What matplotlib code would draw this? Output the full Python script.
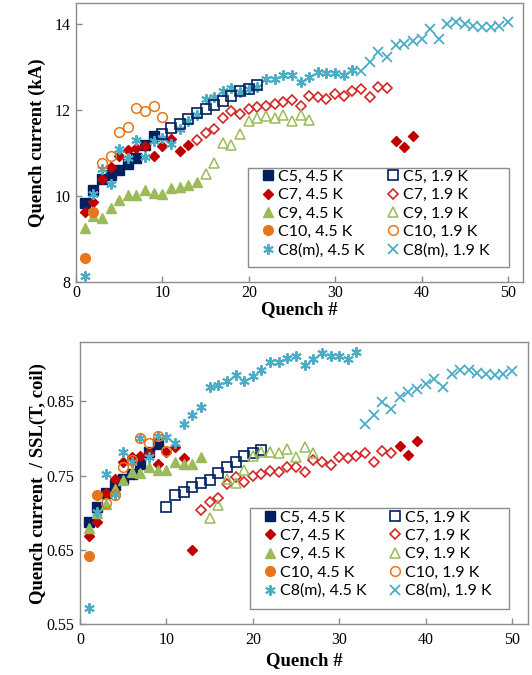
import matplotlib
matplotlib.use("Agg")
import matplotlib.pyplot as plt
from matplotlib.lines import Line2D
from matplotlib.patches import Rectangle

# ---------------- data: top panel (Quench current, kA) ----------------
c5_45_x = [1, 2, 3, 4, 5, 6, 7, 8, 9]
c5_45_y = [9.85, 10.15, 10.4, 10.5, 10.62, 10.75, 10.9, 11.2, 11.4]
c5_19_x = [10, 11, 12, 13, 14, 15, 16, 17, 18, 19, 20, 21]
c5_19_y = [11.45, 11.58, 11.68, 11.8, 11.93, 12.03, 12.12, 12.22, 12.33, 12.44, 12.5, 12.58]
c7_45_x = [1, 2, 3, 4, 5, 6, 7, 8, 9, 10, 11, 12, 13, 37, 38, 39]
c7_45_y = [9.62, 9.87, 10.39, 10.67, 10.94, 11.08, 11.13, 11.16, 10.94, 11.16, 11.33, 11.06, 11.2,
           11.29, 11.15, 11.39]
c7_19_x = list(range(14, 37))
c7_19_y = [11.3, 11.46, 11.56, 11.82, 11.99, 11.92, 12.02, 12.07, 12.11, 12.15, 12.2, 12.23,
           12.11, 12.34, 12.3, 12.26, 12.37, 12.34, 12.44, 12.5, 12.32, 12.55, 12.51]
c9_45_x = list(range(1, 15))
c9_45_y = [9.26, 9.54, 9.49, 9.72, 9.91, 10.02, 10.02, 10.14, 10.08, 10.05, 10.2, 10.22, 10.25, 10.33]
c9_19_x = list(range(15, 28))
c9_19_y = [10.52, 10.77, 11.25, 11.2, 11.44, 11.75, 11.82, 11.86, 11.82, 11.9, 11.74, 11.88, 11.77]
c10_45_x = [1, 2]
c10_45_y = [8.55, 9.62]
c10_19_x = [3, 4, 5, 6, 7, 8, 9, 10]
c10_19_y = [10.77, 10.94, 11.5, 11.61, 12.05, 11.98, 12.11, 11.84]
c8_45_x = list(range(1, 33))
c8_45_y = [8.15, 10.06, 10.64, 10.29, 11.1, 10.9, 11.3, 10.92, 11.29, 11.36, 11.21, 11.57, 11.76,
           11.88, 12.27, 12.32, 12.44, 12.53, 12.42, 12.5, 12.55, 12.72, 12.73, 12.83, 12.83,
           12.67, 12.78, 12.9, 12.86, 12.86, 12.82, 12.94]
c8_19_x = list(range(33, 51))
c8_19_y = [12.91, 13.13, 13.36, 13.24, 13.51, 13.55, 13.62, 13.66, 13.89, 13.66, 14.0, 14.05,
           14.0, 13.97, 13.93, 13.93, 13.97, 14.05]

# ---------------- data: bottom panel (Quench current / SSL) ----------------
r_c5_45_y = [0.688, 0.707, 0.726, 0.737, 0.745, 0.752, 0.765, 0.782, 0.793]
r_c5_19_y = [0.707, 0.7235, 0.728, 0.735, 0.7405, 0.744, 0.754, 0.762, 0.768, 0.777, 0.780, 0.785]
r_c7_45_y = [0.668, 0.688, 0.726, 0.746, 0.768, 0.775, 0.777, 0.780, 0.765, 0.782, 0.7885, 0.774,
             0.650, 0.790, 0.778, 0.797]
r_c7_19_y = [0.704, 0.7145, 0.720, 0.739, 0.748, 0.7414, 0.750, 0.752, 0.756, 0.755, 0.762, 0.762,
             0.755, 0.7715, 0.768, 0.764, 0.775, 0.774, 0.777, 0.780, 0.768, 0.783, 0.780]
r_c9_45_y = [0.679, 0.700, 0.712, 0.7325, 0.744, 0.755, 0.7535, 0.7616, 0.757, 0.757, 0.768,
             0.765, 0.766, 0.775]
r_c9_19_y = [0.6935, 0.711, 0.746, 0.7405, 0.757, 0.777, 0.782, 0.782, 0.780, 0.786, 0.775,
             0.7885, 0.780]
r_c10_45_y = [0.641, 0.7235]
r_c10_19_y = [0.713, 0.7245, 0.761, 0.7715, 0.800, 0.794, 0.804, 0.783]
r_c8_45_y = [0.571, 0.701, 0.7527, 0.7258, 0.782, 0.768, 0.800, 0.775, 0.804, 0.802, 0.794, 0.819,
             0.832, 0.843, 0.869, 0.872, 0.877, 0.886, 0.878, 0.884, 0.892, 0.903, 0.903, 0.909,
             0.911, 0.899, 0.9075, 0.9155, 0.911, 0.911, 0.9075, 0.916]
r_c8_19_y = [0.820, 0.831, 0.849, 0.840, 0.856, 0.8625, 0.867, 0.874, 0.8805, 0.869, 0.887, 0.892,
             0.892, 0.8886, 0.887, 0.885, 0.887, 0.891]

legend_labels_45 = ["C5, 4.5 K", "C7, 4.5 K", "C9, 4.5 K", "C10, 4.5 K", "C8(m), 4.5 K"]
legend_labels_19 = ["C5, 1.9 K", "C7, 1.9 K", "C9, 1.9 K", "C10, 1.9 K", "C8(m), 1.9 K"]

NAVY = "#002060"
RED = "#C00000"
RED_O = "#D42626"
GREEN = "#9BBB59"
ORANGE = "#E8751A"
BLUE = "#4BACC6"
SPINE = "#8C8C8C"

SERIF = "Liberation Serif"
SANS = "Lato"

styles_45 = [("s", 6.6, NAVY, 1.0), ("D", 5.6, RED, 1.0), ("^", 7.0, GREEN, 1.0),
             ("o", 7.0, ORANGE, 1.0), ((6, 2, 0), 7.5, BLUE, 1.4)]
styles_19 = [("s", 6.6, NAVY, 1.2), ("D", 5.4, RED_O, 1.2), ("^", 7.0, GREEN, 1.1),
             ("o", 7.0, ORANGE, 1.1), ("x", 6.6, BLUE, 1.3)]


def mk_kwargs(style, filled):
    m, s, c, mew = style
    if m in ("x", (6, 2, 0)):
        return dict(linestyle="none", marker=m, markersize=s, color=c, mew=mew)
    return dict(linestyle="none", marker=m, markersize=s,
                markerfacecolor=c if filled else "none", markeredgecolor=c, mew=mew)


def draw(ax, series45, series19):
    for (x, y), st in zip(series45, styles_45):
        ax.plot(x, y, zorder=3, **mk_kwargs(st, True))
    for (x, y), st in zip(series19, styles_19):
        ax.plot(x, y, zorder=3, **mk_kwargs(st, False))


W, H = 532, 675


def legend(ax, box, first_marker_px):
    handles = [Line2D([], [], label=lab, **mk_kwargs(st, True))
               for st, lab in zip(styles_45, legend_labels_45)]
    handles += [Line2D([], [], label=lab, **mk_kwargs(st, False))
                for st, lab in zip(styles_19, legend_labels_19)]
    fs = 11.5
    fpx = fs * 100 / 72
    hl = 0.8
    mx, my = first_marker_px
    left = mx - hl * fpx / 2
    top = my - 8.5
    leg = ax.legend(handles=handles, ncol=2, loc="upper left",
                    bbox_to_anchor=(left / W, 1 - top / H),
                    bbox_transform=ax.figure.transFigure,
                    prop={"family": SANS, "size": fs}, frameon=False,
                    handlelength=hl, handletextpad=0.25, columnspacing=1.35,
                    labelspacing=0.26, borderpad=0.0, borderaxespad=0.0)
    leg.set_zorder(6)
    l, t, r, b = box
    rect = Rectangle((l / W, 1 - b / H), (r - l) / W, (b - t) / H, transform=ax.figure.transFigure,
                     facecolor="white", edgecolor=SPINE, linewidth=1.0, zorder=5, clip_on=False)
    ax.add_patch(rect)
    return leg


def style_axes(ax, xpad):
    for sp in ax.spines.values():
        sp.set_color(SPINE)
        sp.set_linewidth(1.0)
    ax.tick_params(direction="in", length=4, width=1, color=SPINE, labelsize=11.5)
    ax.tick_params(axis="y", pad=4)
    ax.tick_params(axis="x", pad=xpad)
    for lab in ax.get_xticklabels() + ax.get_yticklabels():
        lab.set_fontfamily(SERIF)


fig = plt.figure(figsize=(W / 100, H / 100), dpi=100)

# top panel
ax1_l, ax1_r, ax1_t, ax1_b = 76, 523, 3, 282
ax1 = fig.add_axes([ax1_l / W, 1 - ax1_b / H, (ax1_r - ax1_l) / W, (ax1_b - ax1_t) / H])
draw(ax1,
     [(c5_45_x, c5_45_y), (c7_45_x, c7_45_y), (c9_45_x, c9_45_y), (c10_45_x, c10_45_y), (c8_45_x, c8_45_y)],
     [(c5_19_x, c5_19_y), (c7_19_x, c7_19_y), (c9_19_x, c9_19_y), (c10_19_x, c10_19_y), (c8_19_x, c8_19_y)])
ax1.set_xlim(0, 51.75)
ax1.set_ylim(8, 14.5)
ax1.set_xticks([0, 10, 20, 30, 40, 50])
ax1.set_yticks([8, 10, 12, 14])
style_axes(ax1, 2)
ax1.set_xlabel("Quench #", fontfamily=SERIF, fontweight="bold", fontsize=13.5)
ax1.xaxis.set_label_coords(0.5, -(301 - ax1_b) / (ax1_b - ax1_t))
ax1.set_ylabel("Quench current (kA)", fontfamily=SERIF, fontweight="bold", fontsize=13.5)
ax1.yaxis.set_label_coords((46 - ax1_l) / (ax1_r - ax1_l), 0.5)
legend(ax1, (248, 168, 509, 267), (268, 178.3))

# bottom panel
ax2_l, ax2_r, ax2_t, ax2_b = 80, 528, 342, 624
ax2 = fig.add_axes([ax2_l / W, 1 - ax2_b / H, (ax2_r - ax2_l) / W, (ax2_b - ax2_t) / H])
draw(ax2,
     [(c5_45_x, r_c5_45_y), (c7_45_x, r_c7_45_y), (c9_45_x, r_c9_45_y), (c10_45_x, r_c10_45_y), (c8_45_x, r_c8_45_y)],
     [(c5_19_x, r_c5_19_y), (c7_19_x, r_c7_19_y), (c9_19_x, r_c9_19_y), (c10_19_x, r_c10_19_y), (c8_19_x, r_c8_19_y)])
ax2.set_xlim(0, 51.85)
ax2.set_ylim(0.55, 0.93)
ax2.set_xticks([0, 10, 20, 30, 40, 50])
ax2.set_yticks([0.55, 0.65, 0.75, 0.85])
ax2.set_yticklabels(["0.55", "0.65", "0.75", "0.85"])
style_axes(ax2, 6)
ax2.set_xlabel("Quench #", fontfamily=SERIF, fontweight="bold", fontsize=13.5)
ax2.xaxis.set_label_coords(0.5, -(652 - ax2_b) / (ax2_b - ax2_t))
ax2.set_ylabel("Quench current  / SSL(T, coil)", fontfamily=SERIF, fontweight="bold", fontsize=13.5)
ax2.yaxis.set_label_coords((47 - ax2_l) / (ax2_r - ax2_l), 0.5)
legend(ax2, (250, 508, 509, 609), (270, 519))

fig.savefig("out.png", dpi=100)
